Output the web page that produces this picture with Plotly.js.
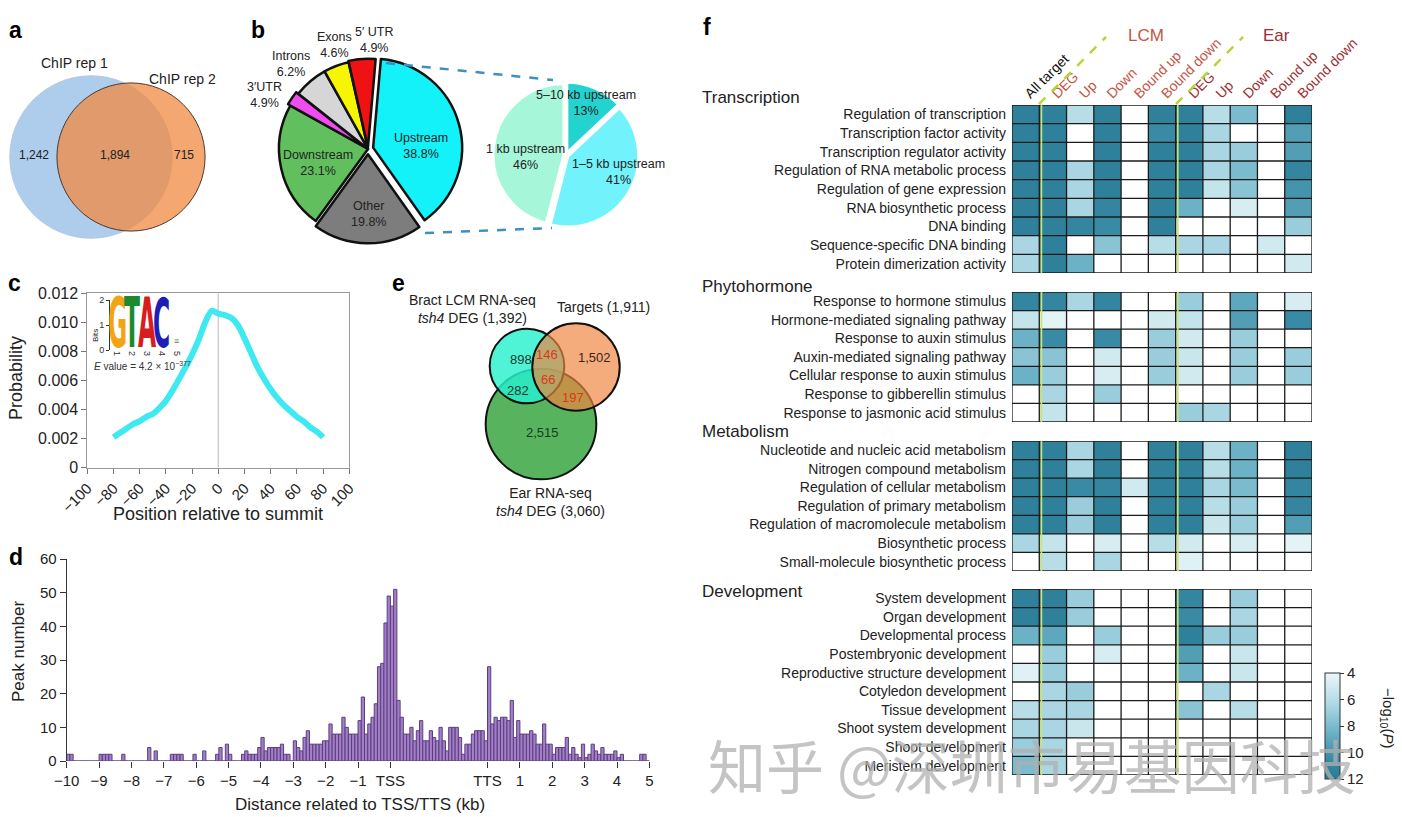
<!DOCTYPE html>
<html><head><meta charset="utf-8">
<script src="https://cdn.plot.ly/plotly-3.0.1.min.js"></script>
<style>html,body{margin:0;padding:0;background:#fff;}#chart{width:1402px;height:817px;}</style>
</head><body><div id="chart"></div>
<script>
// ================= DATA =================
// (a) ChIP replicate overlap
const chipRep1Only = 1242, chipShared = 1894, chipRep2Only = 715;

// (b) genomic distribution of peaks
const genomicLabels = ['Upstream', 'Other', 'Downstream', '3′UTR', 'Introns', 'Exons', '5′ UTR'];
const genomicValues = [38.8, 19.8, 23.1, 2.6, 6.2, 4.6, 4.9];
const genomicPctText = ['38.8%', '19.8%', '23.1%', '4.9%', '6.2%', '4.6%', '4.9%'];
const upstreamLabels = ['5–10 kb upstream', '1–5 kb upstream', '1 kb upstream'];
const upstreamValues = [13, 41, 46];

// (c) motif position relative to summit
const summitPos = [-80,-75,-70,-65,-60,-55,-50,-45,-40,-35,-30,-25,-20,-15,-10,-5,0,5,10,15,20,25,30,35,40,45,50,55,60,65,70,75,80];
const summitProb = [0.0021,0.0024,0.0027,0.0030,0.0032,0.0035,0.0037,0.0041,0.0046,0.0053,0.0061,0.0069,0.0078,0.0088,0.0100,0.0108,0.0106,0.0105,0.0103,0.0098,0.0089,0.0079,0.0069,0.0061,0.0054,0.0048,0.0043,0.0039,0.0035,0.0032,0.0028,0.0025,0.0021];
const motifLetters = ['G', 'T', 'A', 'C'];
const motifBits = [2, 2, 2, 1.95];

// (d) peak distribution (0.1-unit bins from -10 to +8; gene body TSS..TTS scaled to 3 units)
const peakBinStart = -10, peakBinWidth = 0.1;
const peakCounts = [
 2,2,0,0,0,0,0,0,0,0,
 2,2,2,2,0,0,0,2,0,0,
 0,0,0,0,0,4,0,3,0,0,
 0,0,2,2,2,2,0,0,0,2,
 0,0,3,0,0,0,2,4,0,5,
 2,0,0,0,2,3,2,2,2,4,
 7,3,4,4,4,4,5,2,2,0,
 6,4,3,7,9,5,5,5,5,6,
 6,11,8,8,8,13,10,8,8,8,
 12,19,8,11,13,17,28,29,41,49,
 46,51,18,13,8,8,10,6,9,12,
 6,6,9,7,6,10,6,3,10,10,
 10,7,2,5,5,8,9,9,9,6,
 28,11,13,12,13,13,12,18,7,12,
 8,8,8,9,8,5,5,11,5,5,
 2,4,4,4,7,2,4,2,1,5,
 1,2,5,3,2,4,2,2,2,3,
 1,2,0,0,0,0,0,2,2,0];
const distTickVals = [-10,-9,-8,-7,-6,-5,-4,-3,-2,-1,0,3,4,5,6,7,8];
const distTickText = ['−10','−9','−8','−7','−6','−5','−4','−3','−2','−1','TSS','TTS','1','2','3','4','5'];

// (e) three-way overlap
const bractOnly = 898, bractTargets = 146, targetsOnly = 1502, allThree = 66, bractEar = 282, targetsEar = 197, earOnly = 2515;
const bractTotal = 1392, targetsTotal = 1911, earTotal = 3060;

// (f) GO enrichment, -log10(P); null = not significant
const columnLabels = ['All target','DEG','Up','Down','Bound up','Bound down','DEG','Up','Down','Bound up','Bound down'];
const transcriptionTerms = ['Regulation of transcription','Transcription factor activity','Transcription regulator activity','Regulation of RNA metabolic process','Regulation of gene expression','RNA biosynthetic process','DNA binding','Sequence-specific DNA binding','Protein dimerization activity'];
const transcriptionP = [
 [11.5,11.5,6,11.5,null,11.5,11.5,6,8,null,11.5],
 [11.5,11.5,null,11.5,null,10.5,11.5,6.5,null,null,9.5],
 [11.5,11.5,null,11.5,null,11.5,11.5,6.5,7,null,9.5],
 [11.5,11.5,6.5,11.5,null,11.5,11.5,6.5,8,null,11],
 [11.5,11.5,6.5,11.5,null,11.5,11.5,5.5,7.5,null,10],
 [11.5,11.5,6.5,11,null,11.5,8.5,null,4.8,null,9.5],
 [11.5,11.5,11,10.5,null,11.5,null,null,null,null,7],
 [6.5,11.5,null,7.5,null,6,6.5,6.5,null,5,null],
 [6.5,11.5,8.5,null,null,null,null,null,null,null,5]];
const phytohormoneTerms = ['Response to hormone stimulus','Hormone-mediated signaling pathway','Response to auxin stimulus','Auxin-mediated signaling pathway','Cellular response to auxin stimulus','Response to gibberellin stimulus','Response to jasmonic acid stimulus'];
const phytohormoneP = [
 [11,11,6.5,11,null,null,7,null,9,null,4.8],
 [5.5,4.3,null,null,null,5,5.5,null,9.5,null,10.5],
 [8.5,10.5,null,10.5,null,7,5,null,7,null,null],
 [7.5,7.5,null,5,null,7,5.3,null,7,null,7],
 [8.5,7,null,4.8,null,7,5,null,7,null,7],
 [null,6.5,null,7,null,null,null,null,null,null,null],
 [null,5.5,null,null,null,null,7,6.5,null,null,null]];
const metabolismTerms = ['Nucleotide and nucleic acid metabolism','Nitrogen compound metabolism','Regulation of cellular metabolism','Regulation of primary metabolism','Regulation of macromolecule metabolism','Biosynthetic process','Small-molecule biosynthetic process'];
const metabolismP = [
 [11.5,11.5,6.5,11.5,null,11.5,11.5,6,8.5,null,11.5],
 [11.5,11.5,6.5,11.5,null,11.5,11.5,6,8.5,null,11.5],
 [11.5,11.5,10.5,11,5,11.5,11.5,6.5,8,null,11],
 [11.5,11.5,7,11.5,null,11.5,11.5,6,7,null,11],
 [11.5,11.5,7,11.5,null,11.5,11.5,5.3,7,null,9.5],
 [6.5,5.5,null,4.8,null,6,5,null,4.8,null,4.3],
 [null,6,null,6.5,null,null,4.5,null,null,null,null]];
const developmentTerms = ['System development','Organ development','Developmental process','Postembryonic development','Reproductive structure development','Cotyledon development','Tissue development','Shoot system development','Shoot development','Meristem development'];
const developmentP = [
 [11.5,11.5,7,null,null,null,11,null,7,null,null],
 [11.5,11.5,7,null,null,null,10.5,null,6.5,null,null],
 [8.5,9,null,7,null,null,11.5,7,7,null,null],
 [null,7,null,4.8,null,null,9.5,null,5.3,null,null],
 [4.5,7,null,null,null,null,8.5,null,5.3,null,null],
 [null,6.5,7,null,null,null,null,6.5,null,null,null],
 [6,6.5,6.5,null,null,null,7.5,null,6,null,null],
 [6.5,6.5,5.3,null,null,null,null,null,null,null,null],
 [7,6.5,null,null,null,null,null,null,null,null,null],
 [8,6.5,null,null,null,null,null,null,null,null,null]];
const colorbarTicks = [4, 6, 8, 10, 12];

// ================= LAYOUT HELPERS =================
const W = 1402, H = 817;
const X = p => p / W, Y = p => 1 - p / H;
const FONT = 'Liberation Sans, Arial, Helvetica, sans-serif';
const TXT = '#222';
function ann(text, px, py, o) {
  o = o || {};
  return Object.assign({xref:'paper', yref:'paper', x:X(px), y:Y(py), text:text, showarrow:false,
    xanchor:'center', yanchor:'middle', font:{family:FONT, size:o.size||13, color:o.color||TXT}}, o.extra||{});
}
function circle(cx, cy, r, fill, lineColor, lw) {
  return {type:'circle', xref:'paper', yref:'paper', x0:X(cx-r), x1:X(cx+r), y0:Y(cy+r), y1:Y(cy-r),
    fillcolor:fill, line:{color:lineColor, width:lw}, layer:'above'};
}
const fmt = n => n.toLocaleString('en-US');

const traces = [];
const shapes = [];
const annotations = [];

// ---------- (a) Venn ----------
const kA = 1.45;
const rRep1 = kA * Math.sqrt(chipRep1Only + chipShared), rRep2 = kA * Math.sqrt(chipShared + chipRep2Only);
shapes.push(circle(91, 157, rRep1, 'rgba(160,195,232,0.85)', '#b4c9e2', 1));
shapes.push(circle(131, 157, rRep2, 'rgba(240,138,66,0.75)', '#4a3a30', 1));
annotations.push(ann('ChIP rep 1', 74, 63, {size:14}));
annotations.push(ann('ChIP rep 2', 183, 79, {size:14}));
annotations.push(ann(fmt(chipRep1Only), 34, 155, {size:12}));
annotations.push(ann(fmt(chipShared), 115, 155, {size:12}));
annotations.push(ann(fmt(chipRep2Only), 184, 155, {size:12}));

// ---------- (b) pies ----------
const mainR = 94.3;
traces.push({type:'pie', values:genomicValues, labels:genomicLabels, sort:false, direction:'clockwise', rotation:5,
  pull:[0.06,0.06,0,0.03,0,0,0.015], textinfo:'none', hoverinfo:'skip', showlegend:false,
  marker:{colors:['#12f2f8','#7d7d7d','#62bf5e','#f04cf0','#d6d6d6','#f6f600','#f01212'], line:{color:'#111', width:2.5}},
  domain:{x:[X(368-mainR), X(368+mainR)], y:[Y(149+mainR), Y(149-mainR)]}});
const subR = 73;
traces.push({type:'pie', values:upstreamValues, labels:upstreamLabels, sort:false, direction:'clockwise', rotation:0,
  pull:[0.03,0.03,0.03], textinfo:'none', hoverinfo:'skip', showlegend:false,
  marker:{colors:['#22d3cf','#72f3fc','#a6f6da'], line:{color:'#ffffff', width:3}},
  domain:{x:[X(566-subR), X(566+subR)], y:[Y(155+subR), Y(155-subR)]}});
shapes.push({type:'line', xref:'paper', yref:'paper', x0:X(386), y0:Y(63), x1:X(553), y1:Y(80), line:{color:'#3d8fc4', width:2.5, dash:'dash'}});
shapes.push({type:'line', xref:'paper', yref:'paper', x0:X(425), y0:Y(233), x1:X(552), y1:Y(228), line:{color:'#3d8fc4', width:2.5, dash:'dash'}});
const mainLabelPos = [[421,146],[368,214],[318,163],[264,95],[291,64],[334,45],[374,40]];
genomicLabels.forEach((l, i) => {
  annotations.push(ann(l + '<br>' + genomicPctText[i], mainLabelPos[i][0], mainLabelPos[i][1], {size:12.5, color:'#222'}));
});
const subLabelPos = [[586,103],[618,172],[525,157]];
upstreamLabels.forEach((l, i) => {
  annotations.push(ann(l + '<br>' + upstreamValues[i] + '%', subLabelPos[i][0], subLabelPos[i][1], {size:12.5}));
});

// ---------- (c) motif distribution ----------
traces.push({type:'scatter', mode:'lines', x:summitPos, y:summitProb, xaxis:'x', yaxis:'y',
  line:{color:'#3ee9f2', width:6, shape:'spline', smoothing:0.8}, hoverinfo:'skip', showlegend:false});
shapes.push({type:'line', xref:'x', yref:'y', x0:0, x1:0, y0:0, y1:0.012, line:{color:'#cfcfcf', width:1.5}, layer:'below'});
annotations.push(ann('Probability', 16, 378, {size:18, extra:{textangle:-90}}));
annotations.push(ann('Position relative to summit', 218, 514, {size:18}));
// motif logo inset
const motifColors = ['#f2a413','#1d8a2f','#d61e1e','#1e1eb4'];
motifLetters.forEach((l, i) => {
  annotations.push({xref:'x7', yref:'y7', x:i+1, y:0, text:'<b>'+l+'</b>', showarrow:false, xanchor:'center', yanchor:'bottom',
    yshift:-5.5, font:{family:'Liberation Sans Narrow, DejaVu Sans Condensed, Arial Narrow, sans-serif', size:26, color:motifColors[i]},
    _bits:motifBits[i]});
});
annotations.push({xref:'x7', yref:'y7', x:5, y:0.08, text:'<b>≡</b>', showarrow:false, yanchor:'bottom', font:{family:FONT, size:9, color:'#6a7a40'}});
annotations.push(ann('Bits', 96, 336, {size:8, extra:{textangle:-90}}));
annotations.push(ann('<i>E</i> value = 4.2 × 10<sup>−377</sup>', 142, 366, {size:10, color:'#333'}));

// ---------- (d) histogram ----------
traces.push({type:'bar', x:peakCounts.map((_, i) => peakBinStart + peakBinWidth * (i + 0.5)), y:peakCounts, width:peakBinWidth,
  xaxis:'x2', yaxis:'y2', marker:{color:'#a67dc8', line:{color:'#56407c', width:1}}, hoverinfo:'skip', showlegend:false});
annotations.push(ann('Peak number', 18, 652, {size:17, extra:{textangle:-90}}));
annotations.push(ann('Distance related to TSS/TTS (kb)', 360, 804, {size:17}));

// ---------- (e) three-way Venn ----------
const kE = 1.0;
shapes.push(circle(541, 424, kE*Math.sqrt(earTotal), 'rgba(64,168,72,0.88)', '#111', 2));
shapes.push(circle(527, 366, kE*Math.sqrt(bractTotal), 'rgba(40,240,205,0.82)', '#111', 2));
shapes.push(circle(576, 367, kE*Math.sqrt(targetsTotal), 'rgba(240,132,62,0.68)', '#111', 2));
annotations.push(ann('Bract LCM RNA-seq<br><i>tsh4</i> DEG (' + fmt(bractTotal) + ')', 472, 309, {size:14}));
annotations.push(ann('Targets (' + fmt(targetsTotal) + ')', 603, 307, {size:14}));
annotations.push(ann('Ear RNA-seq<br><i>tsh4</i> DEG (' + fmt(earTotal) + ')', 550, 502, {size:14}));
const RED = '#e0361a';
annotations.push(ann(fmt(bractOnly), 521, 359, {size:13, color:'#1f3a34'}));
annotations.push(ann(fmt(bractTargets), 547, 354, {size:13, color:RED}));
annotations.push(ann(fmt(targetsOnly), 594, 357, {size:13, color:'#3a2618'}));
annotations.push(ann(fmt(allThree), 548, 380, {size:13, color:RED}));
annotations.push(ann(fmt(bractEar), 518, 390, {size:13, color:'#1f3a34'}));
annotations.push(ann(fmt(targetsEar), 573, 397, {size:13, color:RED}));
annotations.push(ann(fmt(earOnly), 542, 432, {size:13, color:'#173d1a'}));

// ---------- (f) heatmap ----------
const heatScale = [[0,'#2a7b95'],[0.2,'#3a8ca6'],[0.45,'#6eb4c8'],[0.7,'#acd8e3'],[1,'#ecf7f8']];
const groups = [
  {name:'Transcription', terms:transcriptionTerms, vals:transcriptionP, top:105, bottom:273, head:97},
  {name:'Phytohormone', terms:phytohormoneTerms, vals:phytohormoneP, top:292, bottom:422, head:286},
  {name:'Metabolism', terms:metabolismTerms, vals:metabolismP, top:441, bottom:571, head:431},
  {name:'Development', terms:developmentTerms, vals:developmentP, top:589, bottom:775, head:591}];
const nCols = columnLabels.length;
const colColors = columnLabels.map((_, i) => i === 0 ? '#111' : (i <= 5 ? '#c4553f' : '#9b2f33'));
const layoutAxes = {};
groups.forEach((g, gi) => {
  const ax = gi + 3, n = g.terms.length;
  traces.push({type:'heatmap', z:g.vals.map(r => r.map(v => v == null ? null : -v)),
    x:columnLabels.map((_, i) => i), y:g.terms.map((_, i) => i), xaxis:'x'+ax, yaxis:'y'+ax,
    zmin:-12, zmax:-4, colorscale:heatScale, hoverinfo:'skip', showscale: gi === 3,
    colorbar: {x:X(1325), xanchor:'left', y:Y(779), yanchor:'bottom', len:106/H, lenmode:'fraction', thickness:15,
      outlinewidth:1, outlinecolor:'#333', tickvals:colorbarTicks.map(v => -v), ticktext:colorbarTicks.map(String),
      ticks:'outside', ticklen:4, tickcolor:'#333', tickfont:{family:FONT, size:15, color:TXT}, xpad:0, ypad:0}});
  layoutAxes['xaxis'+ax] = {domain:[X(1012), X(1312)], range:[-0.5, nCols-0.5], anchor:'y'+ax, side:'top',
    tickvals:columnLabels.map((_, i) => i),
    ticktext:columnLabels.map((l, i) => '<span style="color:' + colColors[i] + '">' + l + '</span>'),
    tickangle:-45, ticks:'', showticklabels: gi === 0, showgrid:false, zeroline:false, showline:false,
    tickfont:{family:FONT, size:14}, fixedrange:true};
  layoutAxes['yaxis'+ax] = {domain:[Y(g.bottom), Y(g.top)], range:[n-0.5, -0.5], anchor:'x'+ax,
    tickvals:g.terms.map((_, i) => i), ticktext:g.terms, ticks:'', showgrid:false, zeroline:false, showline:false,
    ticklabelstandoff:5, tickfont:{family:FONT, size:14, color:TXT}, fixedrange:true};
  for (let i = 0; i <= nCols; i++) shapes.push({type:'line', xref:'x'+ax, yref:'y'+ax, x0:i-0.5, x1:i-0.5, y0:-0.5, y1:n-0.5, line:{color:'#1b1b1b', width:1.3}});
  for (let j = 0; j <= n; j++) shapes.push({type:'line', xref:'x'+ax, yref:'y'+ax, x0:-0.5, x1:nCols-0.5, y0:j-0.5, y1:j-0.5, line:{color:'#1b1b1b', width:1.3}});
  [0.5, 5.5].forEach(xv => shapes.push({type:'line', xref:'x'+ax, yref:'y'+ax, x0:xv+0.08, x1:xv+0.08, y0:-0.5, y1:n-0.5, line:{color:'#cfe36a', width:1.6}}));
  annotations.push(Object.assign(ann(g.name, 700, g.head, {size:17}), {xanchor:'left'}));
});
shapes.push({type:'line', xref:'paper', yref:'paper', x0:X(1039), y0:Y(104), x1:X(1106), y1:Y(37), line:{color:'#b9d43a', width:2.5, dash:'dash'}});
shapes.push({type:'line', xref:'paper', yref:'paper', x0:X(1176), y0:Y(104), x1:X(1243), y1:Y(37), line:{color:'#b9d43a', width:2.5, dash:'dash'}});
annotations.push(ann('LCM', 1146, 35, {size:17, color:'#c4553f'}));
annotations.push(ann('Ear', 1276, 35, {size:17, color:'#9b2f33'}));
annotations.push(ann('−log<sub>10</sub>(<i>P</i>)', 1388, 718, {size:15, extra:{textangle:90}}));

// panel letters
[['a',15,30],['b',258,30],['c',14,283],['d',16,557],['e',398,283],['f',707,27]].forEach(p => {
  annotations.push(ann('<b>' + p[0] + '</b>', p[1], p[2], {size:23, color:'#000'}));
});
// watermark
annotations.push(ann('知乎 @深圳市易基因科技', 1032, 764, {size:58, extra:{font:{family:'Noto Sans CJK SC, sans-serif', size:58, color:'rgba(176,176,176,0.75)'}}}));

const layout = Object.assign({
  width:W, height:H, margin:{l:0, r:0, t:0, b:0}, paper_bgcolor:'#fff', plot_bgcolor:'rgba(0,0,0,0)',
  showlegend:false, font:{family:FONT, color:TXT}, bargap:0,
  xaxis:{domain:[X(87.3), X(349.3)], range:[-100, 100], anchor:'y', tickvals:[-100,-80,-60,-40,-20,0,20,40,60,80,100],
    tickangle:-45, ticks:'outside', ticklen:5, tickcolor:'#777', showline:true, linecolor:'#999', linewidth:1, mirror:true,
    showgrid:false, zeroline:false, tickfont:{family:FONT, size:15, color:TXT}},
  yaxis:{domain:[Y(467.7), Y(293.3)], range:[0, 0.012], anchor:'x', tickvals:[0,0.002,0.004,0.006,0.008,0.010,0.012],
    ticktext:['0','0.002','0.004','0.006','0.008','0.010','0.012'], ticks:'outside', ticklen:5, tickcolor:'#777',
    showline:true, linecolor:'#999', linewidth:1, mirror:true, showgrid:false, zeroline:false, tickfont:{family:FONT, size:16, color:TXT}},
  xaxis2:{domain:[X(66.7), X(651)], range:[-10, 8.05], anchor:'y2', tickvals:distTickVals, ticktext:distTickText,
    ticks:'outside', ticklen:6, tickcolor:'#333', showline:false, zeroline:false, showgrid:false, tickfont:{family:FONT, size:15, color:TXT}},
  yaxis2:{domain:[Y(761), Y(559)], range:[0, 60], anchor:'x2', dtick:10, ticks:'outside', ticklen:6, tickcolor:'#333',
    showline:true, linecolor:'#333', linewidth:1, zeroline:false, showgrid:false, tickfont:{family:FONT, size:15, color:TXT}},
  xaxis7:{domain:[X(110), X(184)], range:[0.5, 5.5], anchor:'y7', tickvals:[1,2,3,4,5], tickangle:90, ticks:'',
    showline:false, showgrid:false, zeroline:false, tickfont:{family:FONT, size:9, color:'#333'}},
  yaxis7:{domain:[Y(350), Y(300)], range:[0, 2], anchor:'x7', tickvals:[0,1,2], ticks:'outside', ticklen:3, tickcolor:'#333',
    showline:true, linecolor:'#333', linewidth:1, showgrid:false, zeroline:false, tickfont:{family:FONT, size:9, color:'#333'}},
  shapes:shapes, annotations:annotations
}, layoutAxes);

// strip non-plotly helper key before plotting
const motifScale = annotations.map(a => a._bits);
annotations.forEach(a => { delete a._bits; });

Plotly.newPlot('chart', traces, layout, {displayModeBar:false, staticPlot:true}).then(() => {
  try {
    const pxPerBit = 25; // height of one bit in the inset
    document.querySelectorAll('#chart .annotation').forEach(g => {
      const idx = +g.getAttribute('data-index');
      const bits = motifScale[idx];
      if (!bits) return;
      const t = g.querySelector('text');
      if (!t) return;
      const bb = t.getBBox();
      const size = 26;
      const base = bb.y + bb.height - 0.212 * size;
      const capH = 0.716 * size;
      const s = (bits * pxPerBit) / capH;
      t.setAttribute('transform', 'translate(0,' + base + ') scale(1,' + s + ') translate(0,' + (-base) + ')');
    });
  } catch (e) {}
});
</script>
</body></html>
